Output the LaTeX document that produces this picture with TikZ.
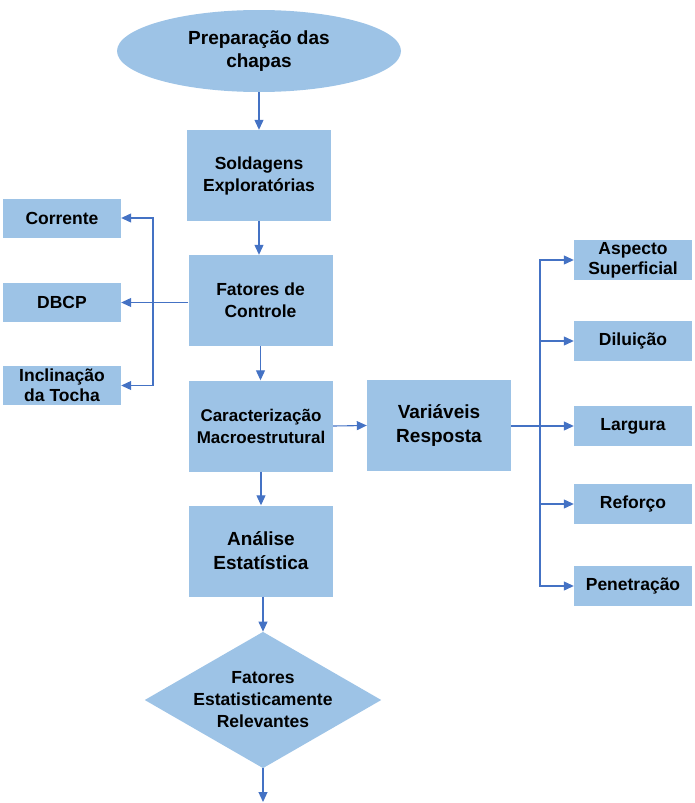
\documentclass[tikz,border=0pt]{standalone}
\usepackage{fontspec}
\setmainfont{Liberation Sans}
\usepackage{tikz}
\usetikzlibrary{positioning,arrows.meta,shapes.geometric,calc}
\usepackage{xcolor}
\definecolor{boxblue}{HTML}{9DC3E6}
\definecolor{lineblue}{HTML}{4472C4}

\begin{document}
\begin{tikzpicture}[x=1pt, y=-1pt,
    stepBox/.style={rectangle, fill=boxblue, draw=none, font=\fontsize{17.5}{22}\selectfont\bfseries, align=center, inner sep=2pt, minimum width=144pt, minimum height=91pt},
    bigBox/.style={stepBox, font=\fontsize{19}{24}\selectfont\bfseries},
    sideBox/.style={rectangle, fill=boxblue, draw=none, font=\fontsize{17.5}{20}\selectfont\bfseries, align=center, inner sep=1pt, minimum width=118pt, minimum height=39pt},
    startShape/.style={ellipse, fill=boxblue, draw=none, font=\fontsize{19}{23}\selectfont\bfseries, align=center, inner sep=0pt, minimum width=284pt, minimum height=82pt},
    decisionShape/.style={diamond, fill=boxblue, draw=none, font=\fontsize{17.5}{22}\selectfont\bfseries, align=center, inner sep=0pt, minimum width=236pt, minimum height=136pt, aspect=1.735},
    arrowStyle/.style={-{Triangle[length=10pt, width=9pt]}, line width=1.1pt, draw=lineblue}
]
    \useasboundingbox (0,0) rectangle (695,803);

    % main column
    \node[startShape] (prep) at (259, 51) {Preparação das\\chapas};
    \node[stepBox] (sold) at (259, 175.5) {Soldagens\\Exploratórias};
    \node[stepBox] (fat) at (260.5, 300.5) {Fatores de\\Controle};
    \node[stepBox, font=\fontsize{17}{22}\selectfont\bfseries] (carac) at (261, 426) {Caracterização\\Macroestrutural};
    \node[bigBox] (var) at (439, 425.5) {Variáveis\\Resposta};
    \node[bigBox] (anal) at (261, 551) {Análise\\Estatística};
    \node[decisionShape] (relev) at (263, 700) {Fatores\\Estatisticamente\\Relevantes};
    \coordinate (fim) at (263, 802);

    % control factors
    \node[sideBox] (corr) at (62, 218) {Corrente};
    \node[sideBox] (dbcp) at (62, 302.5) {DBCP};
    \node[sideBox] (incl) at (62, 385.5) {Inclinação\\da Tocha};

    % response variables
    \node[sideBox, minimum height=40pt] (asp) at (633, 260) {Aspecto\\Superficial};
    \node[sideBox, minimum height=40pt] (dil) at (633, 341) {Diluição};
    \node[sideBox, minimum height=40pt] (larg) at (633, 426) {Largura};
    \node[sideBox, minimum height=40pt] (ref) at (633, 504) {Reforço};
    \node[sideBox, minimum height=40pt] (pen) at (633, 586) {Penetração};

    \draw[arrowStyle] (prep.south) -- (prep.south |- sold.north);
    \draw[arrowStyle] (sold.south) -- (sold.south |- fat.north);
    \draw[arrowStyle] (fat.south) -- (fat.south |- carac.north);
    \draw[arrowStyle] (carac.south) -- (carac.south |- anal.north);
    \draw[arrowStyle] (anal.south -| relev.north) -- (relev.north);
    \draw[arrowStyle] (relev.south) -- (fim);

    \coordinate (lsplit) at (153, 302.5);
    \draw[arrowStyle] (fat.west |- dbcp.east) -- (dbcp.east);
    \draw[arrowStyle] (lsplit) |- (corr.east);
    \draw[arrowStyle] (lsplit) |- (incl.east);

    \coordinate (rsplit) at (540, 426);
    \draw[arrowStyle] (carac.east) -- (var.west);
    \draw[arrowStyle] (var.east |- larg.west) -- (larg.west);
    \draw[arrowStyle] (rsplit) |- (asp.west);
    \draw[arrowStyle] (rsplit) |- (dil.west);
    \draw[arrowStyle] (rsplit) |- (ref.west);
    \draw[arrowStyle] (rsplit) |- (pen.west);
\end{tikzpicture}
\end{document}
